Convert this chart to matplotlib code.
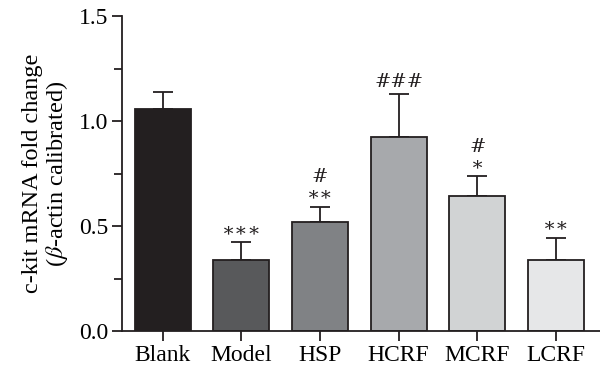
import matplotlib
matplotlib.use('Agg')
import matplotlib.pyplot as plt
import numpy as np

plt.rcParams['font.family'] = ['Liberation Serif', 'DejaVu Serif']
plt.rcParams['mathtext.fontset'] = 'stix'

# Data
groups = ['Blank', 'Model', 'HSP', 'HCRF', 'MCRF', 'LCRF']
means = [1.057, 0.340, 0.518, 0.925, 0.643, 0.340]
errors = [0.083, 0.084, 0.074, 0.204, 0.095, 0.104]
marks = ['', '∗∗∗', '#\n∗∗', '###', '#\n∗', '∗∗']
bar_colors = ['#231f20', '#58595b', '#808285', '#a7a9ac', '#d1d3d4', '#e6e7e8']

edge = '#231f20'
fig = plt.figure(figsize=(6, 3.81), dpi=100)
ax = fig.add_axes([0.203, 0.131, 0.797, 0.827])

x = np.arange(len(groups))
ax.bar(x, means, width=0.71, color=bar_colors, edgecolor=edge, linewidth=1.3, zorder=2)
ax.errorbar(x, means, yerr=[np.zeros(len(errors)), errors], fmt='none',
            ecolor=edge, elinewidth=1.3, capsize=7, capthick=1.3, zorder=1)

# significance marks above error bars
for xi, m, e, lab in zip(x, means, errors, marks):
    if lab:
        ax.text(xi, m + e + 0.015, lab, ha='center', va='bottom', fontsize=14,
                color='#231f20', linespacing=0.95,
                family=['DejaVu Serif'])

ax.set_xlim(-0.52, 5.56)
ax.set_ylim(0, 1.5)
ax.set_xticks(x)
ax.set_xticklabels(groups, fontsize=17)
ax.set_yticks([0, 0.5, 1.0, 1.5])
ax.set_yticklabels(['0.0', '0.5', '1.0', '1.5'], fontsize=17)
ax.set_yticks([0.25, 0.75, 1.25], minor=True)
ax.tick_params(axis='both', which='major', length=7, width=1.3, color=edge, pad=3)
ax.tick_params(axis='y', which='minor', length=6, width=1.3, color=edge)

for s in ['top', 'right']:
    ax.spines[s].set_visible(False)
for s in ['left', 'bottom']:
    ax.spines[s].set_linewidth(1.3)
    ax.spines[s].set_color(edge)

ax.set_ylabel('c-kit mRNA fold change\n($\\beta$-actin calibrated)', fontsize=17.5,
              linespacing=1.05, labelpad=6)

fig.savefig('out.png', dpi=100)
